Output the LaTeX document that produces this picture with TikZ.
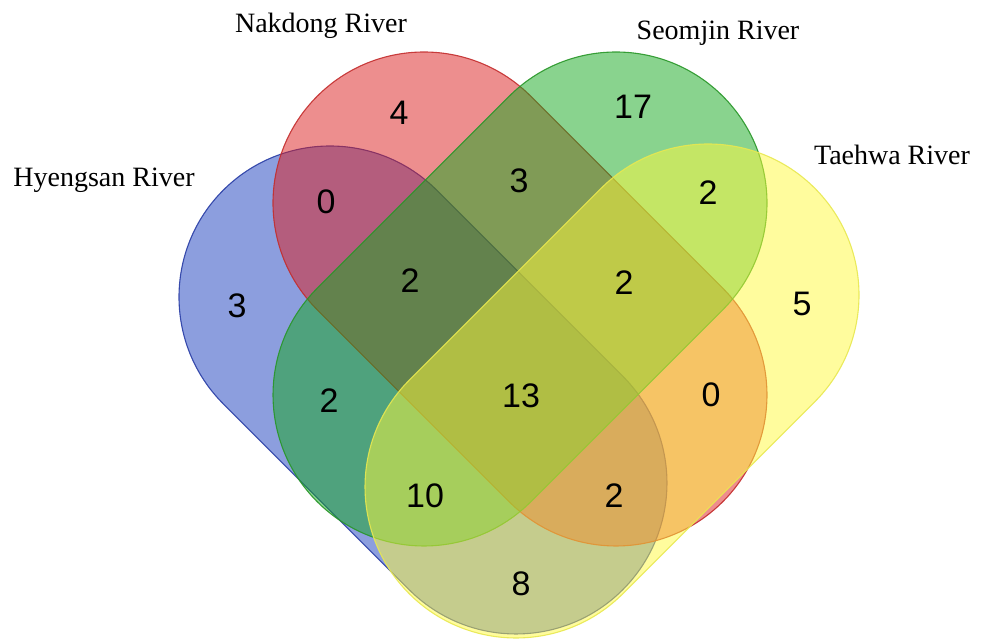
\documentclass[tikz,border=0pt]{standalone}
\usepackage{fontspec}
\setmainfont{Liberation Serif}
\newfontfamily\numfont{Liberation Sans}
\definecolor{bluef}{RGB}{25,62,190}
\definecolor{blued}{RGB}{40,60,165}
\definecolor{redf}{RGB}{220,30,30}
\definecolor{redd}{RGB}{195,45,45}
\definecolor{greenf}{RGB}{20,168,30}
\definecolor{greend}{RGB}{40,150,40}
\definecolor{yellowf}{RGB}{255,250,60}
\definecolor{yellowd}{RGB}{232,232,80}
% #1 start centre, #2 axis angle, #3 axis length
\newcommand{\stadpath}[3]{(#1) ++(#2+90:\Rr) -- ++(#2:#3) arc[start angle=#2+90, end angle=#2-90, radius=\Rr] -- ++(#2+180:#3) arc[start angle=#2-90, end angle=#2-270, radius=\Rr] -- cycle}
\newcommand{\Rr}{151}
\tikzset{
  setshape/.style={fill opacity=0.5, draw opacity=0.9, line width=1.1pt},
  num/.style={font=\numfont\fontsize{34}{36}\selectfont, text=black, inner sep=0pt},
  lab/.style={font=\fontsize{28}{30}\selectfont, text=black, inner sep=0pt, anchor=base}
}
\begin{document}
\begin{tikzpicture}[x=1pt,y=1pt]
\useasboundingbox (0,0) rectangle (982,638);
\coordinate (bA) at (330,341);
\coordinate (rA) at (424,435);
\coordinate (gA) at (616,435);
\coordinate (yA) at (708,343);
\draw[setshape, fill=bluef, draw=blued] \stadpath{bA}{-45}{263};
\draw[setshape, fill=redf, draw=redd] \stadpath{rA}{-45}{271.5};
\draw[setshape, fill=greenf, draw=greend] \stadpath{gA}{-135}{271.5};
\draw[setshape, fill=yellowf, draw=yellowd] \stadpath{yA}{-135}{271.5};
% labels
\node[lab] (lN) at (321,605) {Nakdong River};
\node[lab] (lS) at (718,598) {Seomjin River};
\node[lab] (lH) at (104,451) {Hyengsan River};
\node[lab] (lT) at (892,473) {Taehwa River};
% numbers
\node[num] (n1) at (399,525) {4};
\node[num] (n2) at (633,531) {17};
\node[num] (n3) at (326,436) {0};
\node[num] (n4) at (519,457) {3};
\node[num] (n5) at (708,445) {2};
\node[num] (n6) at (237,332) {3};
\node[num] (n7) at (410,357) {2};
\node[num] (n8) at (624,355) {2};
\node[num] (n9) at (802,334) {5};
\node[num] (n10) at (329,237) {2};
\node[num] (n11) at (521,242) {13};
\node[num] (n12) at (711,243) {0};
\node[num] (n13) at (425,142) {10};
\node[num] (n14) at (614,142) {2};
\node[num] (n15) at (521,54) {8};
\end{tikzpicture}
\end{document}
